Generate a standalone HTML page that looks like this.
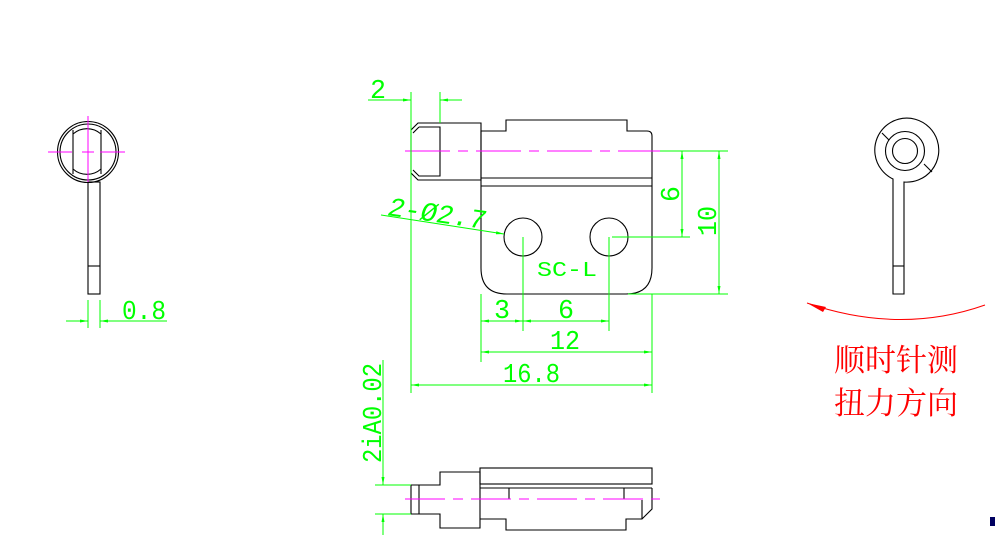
<!DOCTYPE html>
<html><head><meta charset="utf-8"><style>
html,body{margin:0;padding:0;background:#fff;width:995px;height:555px;overflow:hidden}
svg{display:block}
text{font-family:"Liberation Mono","DejaVu Sans Mono",monospace;fill:#00ff00}
</style></head><body>
<svg width="995" height="555" viewBox="0 0 995 555" xmlns="http://www.w3.org/2000/svg">
<defs>
<marker id="ar" markerWidth="8" markerHeight="4" refX="8" refY="2" orient="auto-start-reverse" markerUnits="userSpaceOnUse"><path d="M0,0.5 L8,2 L0,3.5 Z" fill="#00ff00"/></marker>
</defs>
<g fill="none" stroke="#000" stroke-width="1.1">
<circle cx="88" cy="152" r="30.5"/>
<circle cx="88" cy="152" r="28"/>
<path d="M73,134 A21,21 0 0 1 101,134"/>
<path d="M73,169 A21,21 0 0 0 101,169"/>
<line x1="73" y1="130" x2="73" y2="174"/>
<line x1="101" y1="130" x2="101" y2="174"/>
<rect x="88" y="182" width="12" height="112"/>
<line x1="88" y1="266" x2="100" y2="266"/>
<path d="M893,182 L893,294 L904,294 L904,182 A32,32 0 1 0 893,179 Z"/>
<circle cx="905" cy="151" r="19.5"/>
<circle cx="905" cy="151" r="12.5"/>
<line x1="882" y1="133" x2="889" y2="140"/>
<line x1="924" y1="164" x2="932" y2="172"/>
<line x1="893" y1="266" x2="904" y2="266"/>
<path d="M418,123 L481,123 L481,180 L418,180 L411,173 L411,130 Z"/>
<path d="M419,127 L440,127 L440,176 L419,176 L413,170 M419,127 L413,133"/>
<path d="M481,131 L506,131 L506,120 L627,120 L627,131 L647,131 Q652,131 652,136 L652,268 Q652,294 626,294 L507,294 Q481,294 481,268 Z"/>
<line x1="481" y1="178" x2="652" y2="178"/>
<line x1="481" y1="186" x2="652" y2="186"/>
<circle cx="523" cy="237" r="19"/>
<circle cx="609" cy="237" r="19"/>
<path d="M411,485 L440,485 L440,472 L480,472 L480,528 L440,528 L440,514 L411,514 Z"/>
<line x1="419" y1="485" x2="419" y2="514"/>
<rect x="480" y="468" width="172" height="16"/>
<line x1="480" y1="488" x2="652" y2="488"/>
<path d="M509,488 L509,499 M624,488 L624,499"/>
<path d="M652,488 L652,509 L642,519 L626,519 L626,530 L506,530 L506,519 L480,519"/>
<line x1="642" y1="500" x2="642" y2="519"/>
</g>
<g stroke="#ff00ff" stroke-width="1" fill="none">
<line x1="48" y1="152" x2="72" y2="152"/><line x1="82" y1="152" x2="94" y2="152"/><line x1="100" y1="152" x2="125" y2="152"/>
<line x1="88" y1="116" x2="88" y2="182"/>
<path d="M405,151 H660" stroke-dasharray="45,8,10,8"/>
<path d="M405,499 H660" stroke-dasharray="40,8,10,8"/>
</g>
<g stroke="#00ff00" stroke-width="1" fill="none">
<line x1="100" y1="300" x2="100" y2="328"/><line x1="88" y1="300" x2="88" y2="328"/>
<line x1="66" y1="321" x2="88" y2="321" marker-end="url(#ar)"/>
<line x1="167" y1="321" x2="100" y2="321" marker-end="url(#ar)"/>
<line x1="411" y1="92" x2="411" y2="393"/>
<line x1="440" y1="92" x2="440" y2="123"/>
<line x1="368" y1="100" x2="411" y2="100" marker-end="url(#ar)"/>
<line x1="462" y1="100" x2="440" y2="100" marker-end="url(#ar)"/>
<line x1="660" y1="151" x2="728" y2="151"/>
<line x1="612" y1="237" x2="690" y2="237"/>
<line x1="628" y1="294" x2="728" y2="294"/>
<line x1="682" y1="151" x2="682" y2="237" marker-start="url(#ar)" marker-end="url(#ar)"/>
<line x1="719" y1="151" x2="719" y2="294" marker-start="url(#ar)" marker-end="url(#ar)"/>
<line x1="481" y1="294" x2="481" y2="362"/>
<line x1="652" y1="294" x2="652" y2="393"/>
<line x1="523" y1="237" x2="523" y2="331"/>
<line x1="609" y1="237" x2="609" y2="331"/>
<line x1="481" y1="321" x2="523" y2="321" marker-start="url(#ar)" marker-end="url(#ar)"/>
<line x1="523" y1="321" x2="609" y2="321" marker-start="url(#ar)" marker-end="url(#ar)"/>
<line x1="481" y1="352" x2="652" y2="352" marker-start="url(#ar)" marker-end="url(#ar)"/>
<line x1="411" y1="385" x2="652" y2="385" marker-start="url(#ar)" marker-end="url(#ar)"/>
<line x1="381" y1="215" x2="504" y2="234" marker-end="url(#ar)"/>
<line x1="375" y1="485" x2="411" y2="485"/>
<line x1="375" y1="514" x2="411" y2="514"/>
<line x1="383" y1="360" x2="383" y2="485" marker-end="url(#ar)"/>
<line x1="383" y1="535" x2="383" y2="514" marker-end="url(#ar)"/>
</g>
<g font-size="27">
<text x="122" y="319" textLength="44" lengthAdjust="spacingAndGlyphs">0.8</text>
<text x="370" y="98" textLength="16" lengthAdjust="spacingAndGlyphs">2</text>
<text x="494" y="318" textLength="16" lengthAdjust="spacingAndGlyphs">3</text>
<text x="558" y="318" textLength="16" lengthAdjust="spacingAndGlyphs">6</text>
<text x="550" y="349" textLength="30" lengthAdjust="spacingAndGlyphs">12</text>
<text x="503" y="382" textLength="57" lengthAdjust="spacingAndGlyphs">16.8</text>
<text x="537" y="276" font-size="21" textLength="60" lengthAdjust="spacingAndGlyphs">SC-L</text>
<text transform="translate(679,202) rotate(-90)" textLength="16" lengthAdjust="spacingAndGlyphs">6</text>
<text transform="translate(716,236) rotate(-90)" textLength="30" lengthAdjust="spacingAndGlyphs">10</text>
<text transform="translate(381,463) rotate(-90)" textLength="100" lengthAdjust="spacingAndGlyphs">2iA0.02</text>
<text transform="translate(386,215) rotate(8) skewX(-10)" textLength="98" lengthAdjust="spacingAndGlyphs">2-Ø2.7</text>
</g>
<path d="M985,305 Q900,335 807,303" stroke="#ff0000" stroke-width="1" fill="none"/>
<path d="M807,303 L826,307 L823,312 Z" fill="#ff0000"/>
<text x="834" y="371" style="fill:#ff0000;font-family:'Liberation Serif','Noto Serif CJK SC',serif;font-size:31px">顺时针测</text>
<text x="834" y="414" style="fill:#ff0000;font-family:'Liberation Serif','Noto Serif CJK SC',serif;font-size:31px">扭力方向</text>
<rect x="990" y="517" width="5" height="9" fill="#000060"/>
</svg>
</body></html>
